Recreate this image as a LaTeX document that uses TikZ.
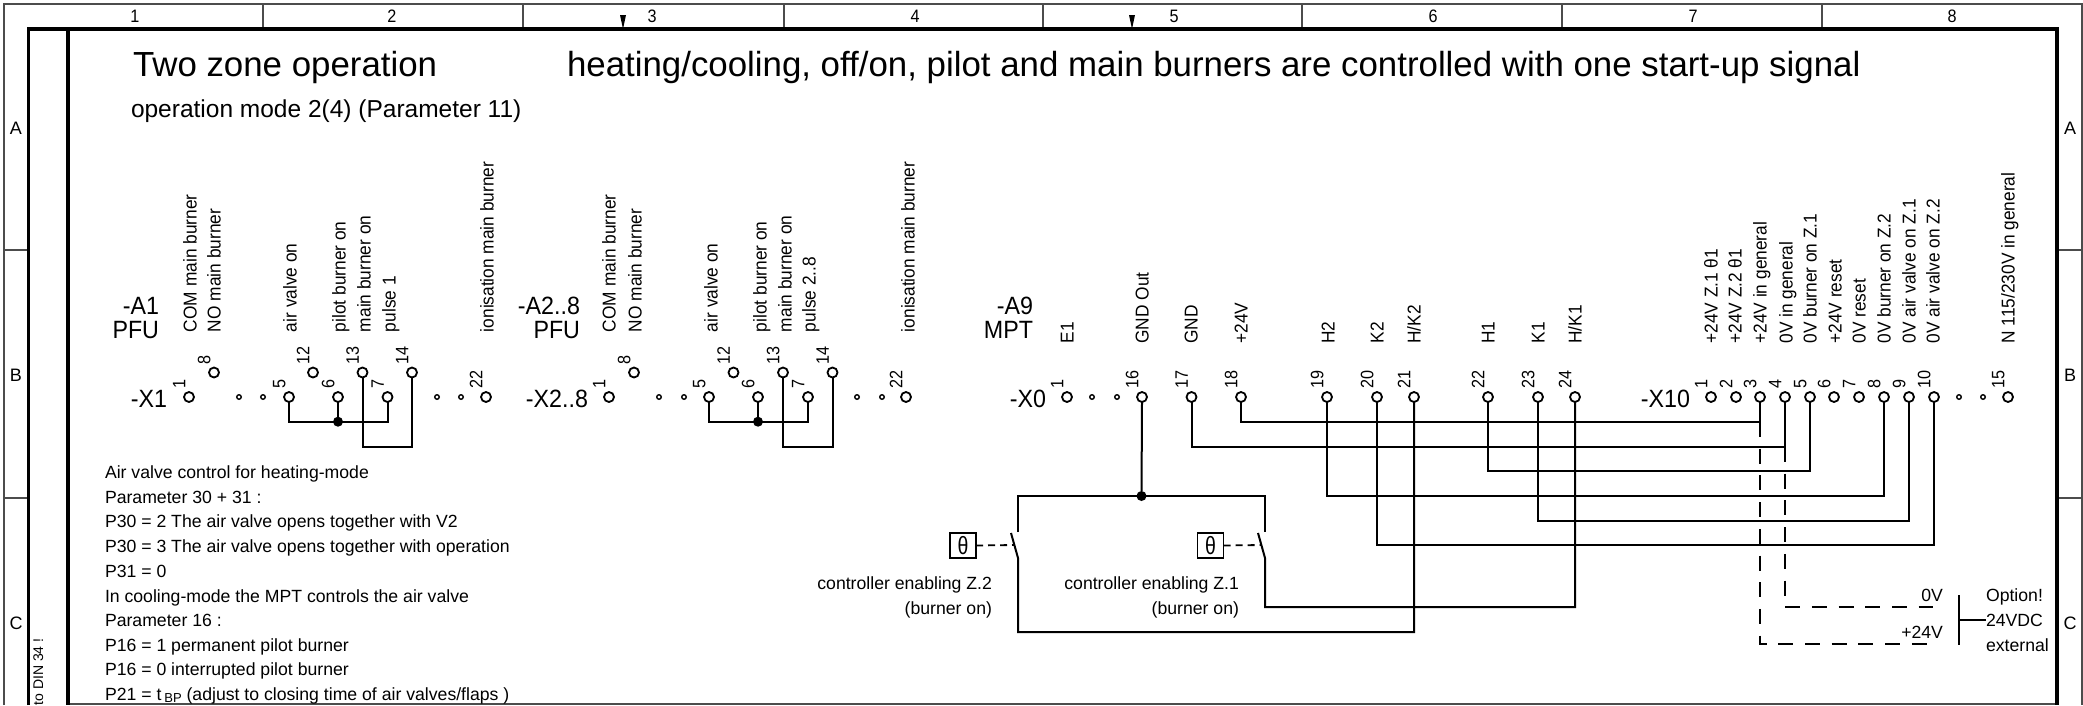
\documentclass[tikz,border=0pt]{standalone}
\usepackage{fontspec}
\setmainfont{Liberation Sans}
\newfontfamily\narrowa[FakeStretch=0.93]{Liberation Sans}
\newfontfamily\narrowb[FakeStretch=0.90]{Liberation Sans}
\newfontfamily\narrowc[FakeStretch=0.78]{Liberation Sans}
\begin{document}
\begin{tikzpicture}[x=1pt,y=-1pt,
  every node/.style={inner sep=0pt,outer sep=0pt},
  frame/.style={line width=1.4pt,draw=black!70},
  thick frame/.style={line width=3.2pt,draw=black},
  wire/.style={line width=2pt,draw=black},
  dashwire/.style={line width=2pt,draw=black,dash pattern=on 15pt off 11.7pt},
  ctrl/.style={line width=1.8pt,draw=black,dash pattern=on 7pt off 5pt},
  pinc/.style={circle,draw=black,line width=1.8pt,fill=white,minimum size=10pt},
  smalldot/.style={circle,draw=black,line width=1.4pt,fill=white,minimum size=4.5pt},
  junct/.style={circle,fill=black,minimum size=10pt},
  vlab/.style={rotate=90,anchor=west,font=\narrowa\fontsize{18.6}{20}\selectfont,text height=13.3pt,text depth=0pt},
  pinlab/.style={rotate=90,anchor=west,font=\narrowb\fontsize{18}{20}\selectfont,text height=12.9pt,text depth=0pt},
  hdr/.style={font=\narrowb\fontsize{18}{20}\selectfont,text height=12.9pt,text depth=0pt},
  rowl/.style={font=\fontsize{18}{20}\selectfont,text height=13pt,text depth=0pt},
  devlab/.style={anchor=east,font=\narrowa\fontsize{25}{28}\selectfont,text height=18pt,text depth=0pt},
  note/.style={anchor=west,font=\fontsize{17.65}{20}\selectfont,text height=12.6pt,text depth=0pt},
  noter/.style={anchor=east,font=\fontsize{17.65}{20}\selectfont,text height=12.6pt,text depth=0pt},
  thetabox/.style={draw=black,line width=1.8pt,minimum width=26pt,minimum height=25pt,font=\narrowc\fontsize{25}{27}\selectfont},
  tick/.style={fill=black,draw=none}]
\useasboundingbox (0,0) rectangle (2083,705);
\fill[white] (0,0) rectangle (2083,705);
% frame
\draw[frame] (4,705) -- (4,4) -- (2082,4) -- (2082,705);
\draw[frame] (68,704) -- (2057,704);
\foreach \x in {263,523,784,1043,1302,1562,1822} \draw[frame] (\x,4) -- (\x,29);
\foreach \y in {250,498} { \draw[frame] (4,\y) -- (29,\y); \draw[frame] (2057,\y) -- (2082,\y); }
\draw[thick frame] (28.5,705) -- (28.5,29) -- (2057,29) -- (2057,705);
\draw[thick frame] (68,29) -- (68,705);
\fill[tick] (620,15) -- (626,15) -- (623,29) -- cycle;
\fill[tick] (1129,15) -- (1135,15) -- (1132,29) -- cycle;
\foreach \x/\t in {135/1,392/2,652/3,915/4,1174/5,1433/6,1693/7,1952/8}
  \node[hdr] (col\t) at (\x,16) {\t};
\foreach \y/\t in {128/A,375/B,623/C} {
  \node[rowl] (rl\t) at (16,\y) {\t};
  \node[rowl] (rr\t) at (2070,\y) {\t};
}
\node[rotate=90,anchor=west,font=\fontsize{14}{16}\selectfont,text height=10pt,text depth=0pt] (din) at (38,705.5) {to DIN 34 !};
% titles
\node[anchor=west,font=\fontsize{34.85}{38}\selectfont,text height=25pt,text depth=0pt] (t1) at (133,64) {Two zone operation};
\node[anchor=west,font=\fontsize{34.85}{38}\selectfont,text height=25pt,text depth=0pt] (t2) at (567,64) {heating/cooling, off/on, pilot and main burners are controlled with one start-up signal};
\node[anchor=west,font=\fontsize{24.5}{27}\selectfont,text height=17.5pt,text depth=0pt] (t3) at (131,109) {operation mode 2(4) (Parameter 11)};
% rotated labels
\foreach \x/\i/\t in {190/a/COM main burner,214/b/NO main burner,290/c/air valve on,339/d/pilot burner on,364/e/main burner on,389/f/pulse 1,487/g/ionisation main burner,
  609/h/COM main burner,635/i/NO main burner,711/j/air valve on,760/k/pilot burner on,785/l/main burner on,809/m/pulse 2..8,908/n/ionisation main burner}
  \node[vlab] (lab\i) at (\x,332) {\t};
\foreach \x/\i/\t in {1067/a/E1,1142/b/GND Out,1191/c/GND,1241/d/+24V,1328/e/H2,1377/f/K2,1414/g/{H/K2},1488/h/H1,1538/i/K1,1575/j/{H/K1},
  1711/k/+24V Z.1 θ1,1735/l/+24V Z.2 θ1,1760/m/+24V in general,1786/n/0V in general,1810/o/0V burner on Z.1,1835/p/+24V reset,1859/q/0V reset,1884/r/0V burner on Z.2,1909/s/0V air valve on Z.1,1933/t/0V air valve on Z.2,2008/u/{N 115/230V in general}}
  \node[vlab] (lbl\i) at (\x,343.5) {\t};
% device labels
\node[devlab] (a1) at (159,305) {-A1};
\node[devlab] (a1p) at (159,329) {PFU};
\node[devlab] (a2) at (580,305) {-A2..8};
\node[devlab] (a2p) at (580,329) {PFU};
\node[devlab] (a9) at (1033,305) {-A9};
\node[devlab] (a9p) at (1033,329) {MPT};
\node[devlab] (x1) at (167,398) {-X1};
\node[devlab] (x2) at (588,398) {-X2..8};
\node[devlab] (x0) at (1046,398) {-X0};
\node[devlab] (x10) at (1690,398) {-X10};
% coordinates for wire routing
\coordinate (bA) at (320,421.7);
\coordinate (bB) at (390,446.7);
\coordinate (bC) at (740,421.7);
\coordinate (bD) at (810,446.7);
\coordinate (r18) at (1500,421.7);
\coordinate (r17) at (1500,446.7);
\coordinate (r22) at (1600,471);
\coordinate (r19) at (1600,495.7);
\coordinate (r23) at (1700,520.7);
\coordinate (r20) at (1700,545);
\coordinate (sw2t) at (1018,532);
\coordinate (sw2b) at (1018,558);
\coordinate (sw2e) at (1011,533);
\coordinate (sw2m) at (1014.5,545);
\coordinate (sw1t) at (1265,532);
\coordinate (sw1b) at (1265,558);
\coordinate (sw1e) at (1258,533);
\coordinate (sw1m) at (1261.5,545);
\coordinate (r21) at (1200,632);
\coordinate (r24) at (1400,607);
\coordinate (d3) at (1760,422);
\coordinate (d4) at (1785,447);
\coordinate (e3) at (1935,644);
\coordinate (e4) at (1933,607);
\coordinate (optT) at (1959,595);
\coordinate (optB) at (1959,645);
\coordinate (optM) at (1959,620);
% pins
\foreach \x/\t in {189/1,289/5,338/6,387.5/7,486/22} {
  \node[pinc] (xa\t) at (\x,397) {};
  \node[pinlab] (xal\t) at (\x-10,388.5) {\t};
}
\foreach \x/\t in {214/8,313/12,362.5/13,412/14} {
  \node[pinc] (xa\t) at (\x,372.5) {};
  \node[pinlab] (xal\t) at (\x-10,364) {\t};
}
\foreach \x/\t in {609/1,709/5,758/6,808/7,906/22} {
  \node[pinc] (xb\t) at (\x,397) {};
  \node[pinlab] (xbl\t) at (\x-10,388.5) {\t};
}
\foreach \x/\t in {634/8,733.5/12,783/13,832.5/14} {
  \node[pinc] (xb\t) at (\x,372.5) {};
  \node[pinlab] (xbl\t) at (\x-10,364) {\t};
}
\foreach \x/\t in {1067/1,1142/16,1191.5/17,1241/18,1327/19,1377/20,1414/21,1488/22,1538/23,1575/24} {
  \node[pinc] (xc\t) at (\x,397) {};
  \node[pinlab] (xcl\t) at (\x-10,388.5) {\t};
}
\foreach \x/\t in {1711/1,1736/2,1760/3,1785/4,1810/5,1834/6,1859/7,1884/8,1909/9,1934/10,2008/15} {
  \node[pinc] (xd\t) at (\x,397) {};
  \node[pinlab] (xdl\t) at (\x-10,388.5) {\t};
}
\foreach \x/\i in {239/a,263/b,659/c,684/d,857/e,882/f,1092/g,1117/h,1959/i,1983/j,437/k,461/l}
  \node[smalldot] (sd\i) at (\x,397) {};
% junctions
\node[junct] (ja) at (338,421.7) {};
\node[junct] (jb) at (758,421.7) {};
\node[junct] (jc) at (1141.5,496) {};
% wires
\draw[wire] (xa5.south) |- (bA) -| (xa7.south);
\draw[wire] (xa6.south) -- (ja);
\draw[wire] (xa13.south) |- (bB) -| (xa14.south);
\draw[wire] (xb5.south) |- (bC) -| (xb7.south);
\draw[wire] (xb6.south) -- (jb);
\draw[wire] (xb13.south) |- (bD) -| (xb14.south);
\draw[wire] (xc18.south) |- (r18) -| (xd3.south);
\draw[wire] (xc17.south) |- (r17) -| (xd4.south);
\draw[wire] (xc22.south) |- (r22) -| (xd5.south);
\draw[wire] (xc19.south) |- (r19) -| (xd8.south);
\draw[wire] (xc23.south) |- (r23) -| (xd9.south);
\draw[wire] (xc20.south) |- (r20) -| (xd10.south);
\draw[wire] (xc16.south) -- (jc);
\draw[wire] (sw2t) |- (jc.center) -| (sw1t);
\draw[wire] (sw2e) -- (sw2b) |- (r21) -| (xc21.south);
\draw[wire] (sw1e) -- (sw1b) |- (r24) -| (xc24.south);
\draw[dashwire] (d3) |- (e3);
\draw[dashwire] (d4) |- (e4);
% controllers
\node[thetabox] (th2) at (963,545.5) {θ};
\node[thetabox] (th1) at (1210.5,545.5) {θ};
\draw[ctrl] (th2.east) -- (sw2m);
\draw[ctrl] (th1.east) -- (sw1m);
\node[noter] (c2a) at (992,583) {controller enabling Z.2};
\node[noter] (c2b) at (992,608) {(burner on)};
\node[noter] (c1a) at (1239,583) {controller enabling Z.1};
\node[noter] (c1b) at (1239,608) {(burner on)};
% option
\draw[wire] (optT) -- (optB);
\node[note] (o1) at (1986,595) {Option!};
\node[note] (o2) at (1986,620) {24VDC};
\node[note] (o3) at (1986,645) {external};
\draw[wire] (optM) -- (o2.west);
\node[noter] (v0) at (1943,595) {0V};
\node[noter] (v24) at (1943,632) {+24V};
% note
\foreach \y/\i/\t in {472/a/Air valve control for heating-mode,497/b/Parameter 30 + 31 :,521/c/P30 = 2 The air valve opens together with V2,546/d/P30 = 3 The air valve opens together with operation,571/e/P31 = 0,596/f/In cooling-mode the MPT controls the air valve,620/g/Parameter 16 :,645/h/P16 = 1 permanent pilot burner,669/i/P16 = 0 interrupted pilot burner}
  \node[note] (n\i) at (105,\y) {\t};
\node[note] (nj) at (105,694) {P21 = t\,{\fontsize{13}{14}\selectfont\raisebox{-2pt}{BP}} (adjust to closing time of air valves/flaps )};
\end{tikzpicture}
\end{document}
